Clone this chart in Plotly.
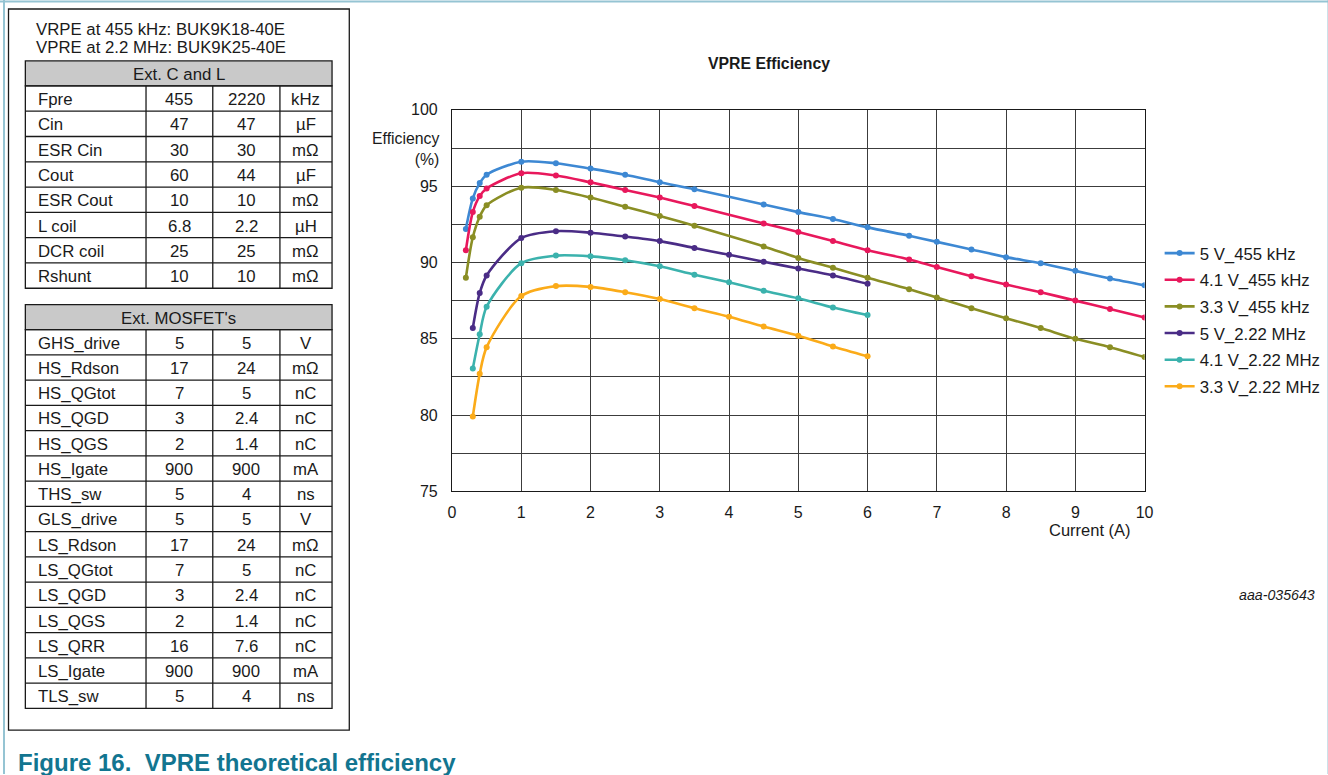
import plotly.graph_objects as go

# The page shows the figure's drawing area at about (8, 8), 1312 x 759; design coordinates are
# reference pixels, mapped onto that area (with a small measured horizontal correction).
W, H = 1328, 775
OX, OY = 5, 8
DW, DH = 1312, 759

# ---------------- data ----------------
x_455 = [0.2, 0.3, 0.4, 0.5, 1, 1.5, 2, 2.5, 3, 3.5, 4.5, 5, 5.5, 6, 6.6, 7, 7.5, 8, 8.5, 9, 9.5, 10]
eff_5v_455 = [92.2, 94.2, 95.2, 95.75, 96.6, 96.5, 96.15, 95.75, 95.25, 94.8, 93.8, 93.3, 92.85,
              92.3, 91.75, 91.35, 90.85, 90.35, 89.95, 89.45, 88.95, 88.5]
eff_41v_455 = [90.8, 93.3, 94.35, 94.85, 95.85, 95.7, 95.25, 94.75, 94.25, 93.7, 92.55, 92.0, 91.4,
               90.8, 90.2, 89.7, 89.1, 88.55, 88.05, 87.5, 86.95, 86.4]
eff_33v_455 = [89.0, 91.65, 93.0, 93.75, 94.9, 94.75, 94.25, 93.65, 93.05, 92.4, 91.05, 90.3, 89.65,
               89.0, 88.25, 87.7, 87.0, 86.35, 85.7, 85.0, 84.45, 83.8]

x_222 = [0.3, 0.4, 0.5, 1, 1.5, 2, 2.5, 3, 3.5, 4, 4.5, 5, 5.5, 6]
eff_5v_222 = [85.7, 88.0, 89.15, 91.6, 92.05, 91.95, 91.7, 91.4, 90.95, 90.5, 90.05, 89.6, 89.15, 88.6]
eff_41v_222 = [83.05, 85.3, 87.1, 89.95, 90.45, 90.4, 90.15, 89.75, 89.2, 88.7, 88.15, 87.65, 87.05, 86.55]
eff_33v_222 = [79.9, 82.7, 84.45, 87.8, 88.45, 88.4, 88.05, 87.6, 87.0, 86.45, 85.8, 85.2, 84.5, 83.85]

series_names = ["5 V_455 kHz", "4.1 V_455 kHz", "3.3 V_455 kHz",
                "5 V_2.22 MHz", "4.1 V_2.22 MHz", "3.3 V_2.22 MHz"]
series_x = [x_455, x_455, x_455, x_222, x_222, x_222]
series_y = [eff_5v_455, eff_41v_455, eff_33v_455, eff_5v_222, eff_41v_222, eff_33v_222]
series_colors = ["#3d88d3", "#e8185c", "#8a8e24", "#4a2c86", "#3bb2ad", "#fbab19"]

y_tick_vals = [75, 77.5, 80, 82.5, 85, 87.5, 90, 92.5, 95, 97.5, 100]
y_tick_text = ["75", "", "80", "", "85", "", "90", "", "95", "", "100"]
x_tick_vals = list(range(0, 11))

header_lines = ["VRPE at 455 kHz: BUK9K18-40E", "VPRE at 2.2 MHz: BUK9K25-40E"]
table1_title = "Ext. C and L"
table1_labels = ["Fpre", "Cin", "ESR Cin", "Cout", "ESR Cout", "L coil", "DCR coil", "Rshunt"]
table1_455 = ["455", "47", "30", "60", "10", "6.8", "25", "10"]
table1_2220 = ["2220", "47", "30", "44", "10", "2.2", "25", "10"]
table1_units = ["kHz", "µF", "mΩ", "µF", "mΩ", "µH", "mΩ", "mΩ"]

table2_title = "Ext. MOSFET's"
table2_labels = ["GHS_drive", "HS_Rdson", "HS_QGtot", "HS_QGD", "HS_QGS", "HS_Igate", "THS_sw",
                 "GLS_drive", "LS_Rdson", "LS_QGtot", "LS_QGD", "LS_QGS", "LS_QRR", "LS_Igate", "TLS_sw"]
table2_455 = ["5", "17", "7", "3", "2", "900", "5", "5", "17", "7", "3", "2", "16", "900", "5"]
table2_2220 = ["5", "24", "5", "2.4", "1.4", "900", "4", "5", "24", "5", "2.4", "1.4", "7.6", "900", "4"]
table2_units = ["V", "mΩ", "nC", "nC", "nC", "mA", "ns", "V", "mΩ", "nC", "nC", "nC", "nC", "mA", "ns"]

# ---------------- helpers (reference pixel -> paper) ----------------
def px(x):
    return (x - OX) / DW


def py(y):
    return 1 - (y - OY) / DH


FONT = "Liberation Sans, Arial, sans-serif"
TXT = "#1a1a1a"
shapes = []
annotations = []


def line(x0, y0, x1, y1, color=TXT, width=1.3):
    shapes.append(dict(type="line", xref="paper", yref="paper",
                       x0=px(x0), y0=py(y0), x1=px(x1), y1=py(y1),
                       line=dict(color=color, width=width)))


def rect(x0, y0, x1, y1, fill=None, color=TXT, width=1.3):
    shapes.append(dict(type="rect", xref="paper", yref="paper",
                       x0=px(x0), y0=py(y0), x1=px(x1), y1=py(y1),
                       fillcolor=fill if fill else "rgba(0,0,0,0)",
                       line=dict(color=color, width=width), layer="below"))


def text(x, y, s, size=16.8, xanchor="center", color=TXT, bold=False, italic=False, align="center"):
    if bold:
        s = "<b>" + s + "</b>"
    if italic:
        s = "<i>" + s + "</i>"
    annotations.append(dict(xref="paper", yref="paper", x=px(x), y=py(y), text=s,
                            showarrow=False, xanchor=xanchor, yanchor="middle", align=align,
                            font=dict(family=FONT, size=size, color=color)))


# page frame (light teal)
FRAME = "#95c4d3"
line(5, 0, 5, H, color=FRAME, width=2)
line(0, 1.5, W, 1.5, color=FRAME, width=2)
line(1326.5, 0, 1326.5, H, color=FRAME, width=2)

# outer table box
rect(9.5, 9, 349.5, 731)

text(35, 30, header_lines[0], xanchor="left")
text(35, 47.5, header_lines[1], xanchor="left")

col_x = [26.3, 146.7, 213.3, 280.3, 332.3]
col_centers = [(col_x[1] + col_x[2]) / 2, (col_x[2] + col_x[3]) / 2, (col_x[3] + col_x[4]) / 2]


def draw_table(top, header_h, row_h, title, labels, v1, v2, units):
    n = len(labels)
    bottom = top + header_h + n * row_h
    rect(col_x[0], top, col_x[-1], top + header_h, fill="#c9c9c9")
    text((col_x[0] + col_x[-1]) / 2, top + header_h / 2 + 1, title)
    body_top = top + header_h
    rect(col_x[0], body_top, col_x[-1], bottom)
    for i in range(1, n):
        yy = body_top + i * row_h
        line(col_x[0], yy, col_x[-1], yy)
    for cx in col_x[1:-1]:
        line(cx, body_top, cx, bottom)
    for i in range(n):
        yc = body_top + (i + 0.5) * row_h + 1
        text(36.5, yc, labels[i], xanchor="left")
        text(col_centers[0], yc, v1[i])
        text(col_centers[1], yc, v2[i])
        text(col_centers[2], yc, units[i])


draw_table(61, 25, 25.33, table1_title, table1_labels, table1_455, table1_2220, table1_units)
draw_table(305, 25, 25.29, table2_title, table2_labels, table2_455, table2_2220, table2_units)

# caption
text(17, 763, "Figure 16.  VPRE theoretical efficiency", size=24, xanchor="left",
     color="#127590", bold=True)

# chart texts
text(768.5, 64, "VPRE Efficiency", size=15.8, bold=True)
text(441, 149, "Efficiency<br>(%)", size=15.8, xanchor="right", align="right")
text(1089, 531, "Current (A)", size=16.5)
text(1315, 596, "aaa-035643", size=14.2, xanchor="right", italic=True)

# ---------------- figure ----------------
fig = go.Figure()
for name, xs, ys, c in zip(series_names, series_x, series_y, series_colors):
    fig.add_trace(go.Scatter(
        x=xs, y=ys, name=name, mode="lines+markers",
        line=dict(color=c, width=2.6, shape="spline", smoothing=0.8),
        marker=dict(color=c, size=6),
        legendgroup=name,
    ))

PX0, PX1 = 452, 1143
PY0, PY1 = 110, 492

fig.update_layout(
    width=W, height=H,
    margin=dict(l=0, r=0, t=0, b=0),
    paper_bgcolor="white", plot_bgcolor="white",
    font=dict(family=FONT, size=16, color=TXT),
    showlegend=True,
    legend=dict(x=px(1158), y=py(236), xanchor="left", yanchor="top",
                font=dict(family=FONT, size=16.8, color=TXT),
                bgcolor="rgba(0,0,0,0)", tracegroupgap=1.8, itemwidth=30),
    xaxis=dict(domain=[px(PX0), px(PX1)], range=[0, 10], tickvals=x_tick_vals,
               showgrid=True, gridcolor="#3c3c3c", gridwidth=1,
               showline=True, linecolor=TXT, linewidth=1.2, mirror=True,
               zeroline=False, ticks="", ticklabelstandoff=6,
               tickfont=dict(family=FONT, size=16, color=TXT)),
    yaxis=dict(domain=[py(PY1), py(PY0)], range=[75, 100], tickvals=y_tick_vals, ticktext=y_tick_text,
               showgrid=True, gridcolor="#3c3c3c", gridwidth=1,
               showline=True, linecolor=TXT, linewidth=1.2, mirror=True,
               zeroline=False, ticks="", ticklabelstandoff=10,
               tickfont=dict(family=FONT, size=16, color=TXT)),
    shapes=shapes,
    annotations=annotations,
)

fig.write_html("out.html", config={"displayModeBar": False},
               post_script="document.body.style.margin='0';document.body.style.overflow='hidden';")
